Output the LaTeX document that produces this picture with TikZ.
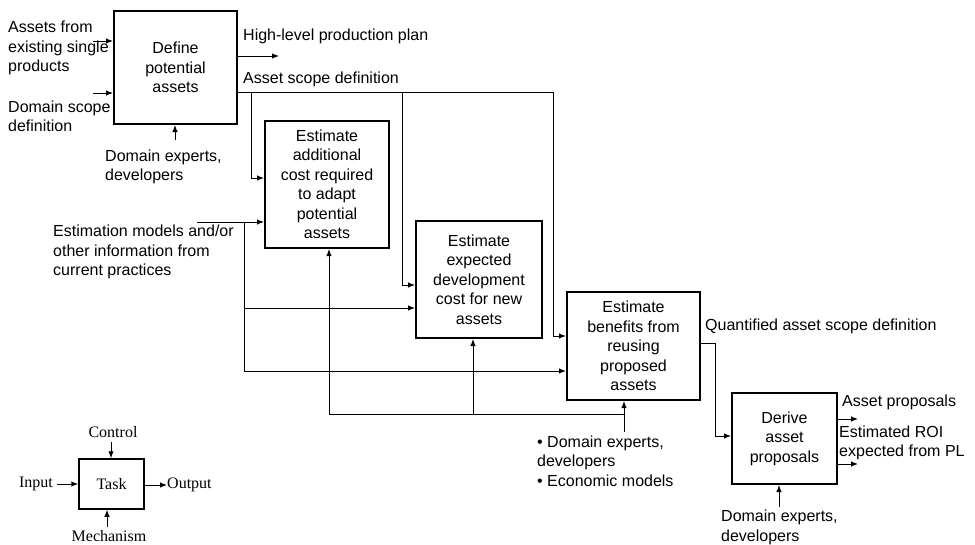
\documentclass[tikz,border=0pt]{standalone}
\usepackage{fontspec}
\setmainfont{Liberation Sans}
\newfontfamily\legendfont{Liberation Serif}
\usetikzlibrary{arrows.meta}

\begin{document}
\begin{tikzpicture}[x=1pt,y=-1pt,
  txt/.style={font=\fontsize{16}{19.5}\selectfont, align=left, inner sep=0pt},
  task/.style={draw, line width=2pt, align=center, inner sep=0pt,
               font=\fontsize{16}{19.5}\selectfont},
  conn/.style={line width=1pt},
  arr/.style={conn, -{Latex[length=7pt,width=5.5pt]}},
  legtxt/.style={font=\legendfont\fontsize{16}{19}\selectfont, inner sep=0pt},
  legbox/.style={draw, line width=1.5pt, minimum width=65pt, minimum height=50pt,
                 inner sep=0pt, font=\legendfont\fontsize{16}{19}\selectfont}]

\useasboundingbox (0,0) rectangle (975,544);

% ---- task boxes ----
\node[task, minimum width=123pt, minimum height=113pt] (b1) at (175.5,67.5)
  {Define\\potential\\assets};
\node[task, minimum width=124pt, minimum height=127pt] (b2) at (327,184.5)
  {Estimate\\additional\\cost required\\to adapt\\potential\\assets};
\node[task, minimum width=126pt, minimum height=117pt] (b3) at (479,279.5)
  {Estimate\\expected\\development\\cost for new\\assets};
\node[task, minimum width=133pt, minimum height=108pt] (b4) at (633.5,346)
  {Estimate\\benefits from\\reusing\\proposed\\assets};
\node[task, minimum width=105pt, minimum height=91pt] (b5) at (784.5,438.5)
  {Derive\\asset\\proposals};

% ---- labels ----
\node[txt, anchor=west] (tin1) at (8,48) {Assets from\\existing single\\products};
\node[txt, anchor=west] (tin2) at (8,116.5) {Domain scope\\definition};
\node[txt, anchor=west] (tm1) at (105,167) {Domain experts,\\developers};
\node[txt, anchor=west] (tplan) at (243,36) {High-level production plan};
\node[txt, anchor=west] (tscope) at (243,79) {Asset scope definition};
\node[txt, anchor=west] (test) at (53,252)
  {Estimation models and/or\\other information from\\current practices};
\node[txt, anchor=west] (tq) at (705,326) {Quantified asset scope definition};
\node[txt, anchor=west] (tm4) at (537,461)
  {• Domain experts,\\developers\\• Economic models};
\node[txt, anchor=west] (tap) at (842,402) {Asset proposals};
\node[txt, anchor=west] (troi) at (839,443) {Estimated ROI\\expected from PL};
\node[txt, anchor=west] (tm5) at (721,527.5) {Domain experts,\\developers};

% ---- junction points ----
\coordinate (in1) at (93,41);
\coordinate (in2) at (93,93);
\coordinate (c1) at (175,140);
\coordinate (plan) at (279,56);
\coordinate (s1) at (251,92);
\coordinate (s2) at (402,92);
\coordinate (s3) at (553,92);
\coordinate (j2) at (251,178);
\coordinate (j3) at (402,285);
\coordinate (j4) at (553,336);
\coordinate (e0) at (197,222);
\coordinate (e1) at (244,222);
\coordinate (e2) at (244,308);
\coordinate (e3) at (244,371);
\coordinate (m0) at (329,414);
\coordinate (m1) at (473,414);
\coordinate (m2) at (624,414);
\coordinate (m3) at (624,432);
\coordinate (q1) at (715,343);
\coordinate (q2) at (715,436);
\coordinate (o1) at (858,419);
\coordinate (o2) at (858,464);
\coordinate (c5) at (779,507);

% ---- connectors ----
\draw[arr] (in1) -- (b1.west |- in1);
\draw[arr] (in2) -- (b1.west |- in2);
\draw[arr] (c1) -- (b1.south -| c1);
\draw[arr] (b1.east |- plan) -- (plan);

\draw[arr] (b1.east |- s3) -- (s3) -- (j4) -- (b4.west |- j4);
\draw[arr] (s1) -- (j2) -- (b2.west |- j2);
\draw[arr] (s2) -- (j3) -- (b3.west |- j3);

\draw[arr] (e0) -- (b2.west |- e0);
\draw[conn] (e1) -- (e3);
\draw[arr] (e2) -- (b3.west |- e2);
\draw[arr] (e3) -- (b4.west |- e3);

\draw[arr] (m3) -- (b4.south -| m3);
\draw[conn] (m2) -- (m0);
\draw[arr] (m0) -- (b2.south -| m0);
\draw[arr] (m1) -- (b3.south -| m1);

\draw[arr] (b4.east |- q1) -- (q1) -- (q2) -- (b5.west |- q2);
\draw[arr] (b5.east |- o1) -- (o1);
\draw[arr] (b5.east |- o2) -- (o2);
\draw[arr] (c5) -- (b5.south -| c5);

% ---- legend ----
\node[legbox] (lt) at (111.5,484) {Task};
\node[legtxt] (lc) at (113,432) {Control};
\node[legtxt, anchor=east] (li) at (53,484) {Input};
\node[legtxt, anchor=west] (lo) at (167,485) {Output};
\node[legtxt] (lm) at (109,536) {Mechanism};
\coordinate (lcs) at (111,442);
\coordinate (lms) at (107,527);
\coordinate (lis) at (57,484);
\draw[arr] (lcs) -- (lt.north -| lcs);
\draw[arr] (lms) -- (lt.south -| lms);
\draw[arr] (lis) -- (lt.west |- lis);
\draw[arr] (lt.east |- lo.west) -- (lo.west);
\end{tikzpicture}
\end{document}
